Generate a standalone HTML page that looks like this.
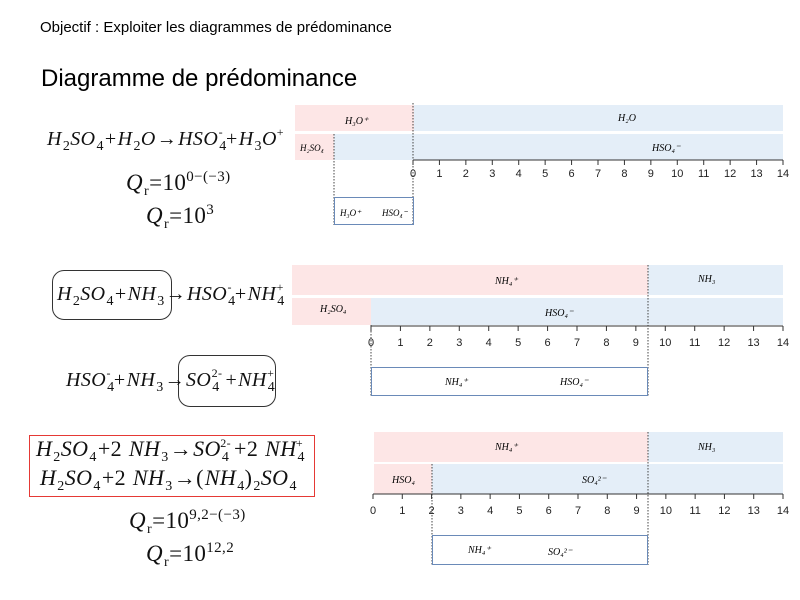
<!DOCTYPE html>
<html><head><meta charset="utf-8"><style>
body{margin:0;width:800px;height:600px;background:#fff;position:relative;overflow:hidden;font-family:"Liberation Sans",sans-serif}
.a{position:absolute;white-space:nowrap}
.eq{position:absolute;white-space:nowrap;font-family:"Liberation Serif",serif;font-style:italic;font-size:20px;color:#111;letter-spacing:0.4px}
.eq sub{font-size:14px;font-style:normal;vertical-align:-5px;line-height:0;margin-left:1px}
.eq sup{font-size:12px;font-style:normal;vertical-align:9px;line-height:0}
.n{font-style:normal}
.o{font-style:normal;margin:0 1px}
</style></head><body>
<div class="a" style="left:40px;top:19px;font-size:15px">Objectif : Exploiter les diagrammes de prédominance</div>
<div class="a" style="left:41px;top:65px;font-size:24px">Diagramme de prédominance</div>

<div class="eq" style="left:47px;top:128px">H<sub>2</sub>SO<sub>4</sub><span class="o">+</span>H<sub>2</sub>O<span class="o">→</span>HSO<sub>4</sub><sup style="margin-left:-8px;margin-right:2px">-</sup><span class="o">+</span>H<sub>3</sub>O<sup>+</sup></div>
<div class="eq" style="left:126px;top:170px;font-size:23px">Q<sub>r</sub><span class="n">=10</span><sup style="font-size:15px">0−(−3)</sup></div>
<div class="eq" style="left:146px;top:203px;font-size:23px">Q<sub>r</sub><span class="n">=10</span><sup style="font-size:15px">3</sup></div>

<div class="a" style="left:52px;top:270px;width:118px;height:48px;border:1px solid #333;border-radius:12px"></div>
<div class="eq" style="left:57px;top:283px">H<sub>2</sub>SO<sub>4</sub><span class="o">+</span>NH<sub>3</sub><span class="o">→</span>HSO<sub>4</sub><sup style="margin-left:-8px;margin-right:2px">-</sup><span class="o">+</span>NH<sub>4</sub><sup style="margin-left:-8px">+</sup></div>
<div class="a" style="left:178px;top:355px;width:96px;height:50px;border:1px solid #333;border-radius:12px"></div>
<div class="eq" style="left:66px;top:369px">HSO<sub>4</sub><sup style="margin-left:-8px;margin-right:2px">-</sup><span class="o">+</span>NH<sub>3</sub><span class="o">→</span>SO<sub>4</sub><sup style="margin-left:-8px;margin-right:2px">2-</sup><span class="o">+</span>NH<sub>4</sub><sup style="margin-left:-8px">+</sup></div>

<div class="a" style="left:29px;top:435px;width:284px;height:60px;border:1.5px solid #e53935"></div>
<div class="eq" style="left:36px;top:436px;font-size:22px">H<sub>2</sub>SO<sub>4</sub><span class="o">+2 </span>NH<sub>3</sub><span class="o">→</span>SO<sub>4</sub><sup style="margin-left:-9px;margin-right:2px">2-</sup><span class="o">+2 </span>NH<sub>4</sub><sup style="margin-left:-9px">+</sup></div>
<div class="eq" style="left:40px;top:465px;font-size:22px">H<sub>2</sub>SO<sub>4</sub><span class="o">+2 </span>NH<sub>3</sub><span class="o">→(</span>NH<sub>4</sub><span class="n">)</span><sub>2</sub>SO<sub>4</sub></div>
<div class="eq" style="left:129px;top:508px;font-size:23px">Q<sub>r</sub><span class="n">=10</span><sup style="font-size:15px">9,2−(−3)</sup></div>
<div class="eq" style="left:146px;top:541px;font-size:23px">Q<sub>r</sub><span class="n">=10</span><sup style="font-size:15px">12,2</sup></div>

<svg class="a" style="left:0;top:0" width="800" height="600" font-family="Liberation Serif,serif" font-style="italic" font-size="10">
<g>
<rect x="295" y="105" width="119" height="26" fill="#fde6e6"/><rect x="414" y="105" width="369" height="26" fill="#e4eef8"/>
<rect x="295" y="134" width="39" height="26" fill="#fde6e6"/><rect x="334" y="134" width="449" height="26" fill="#e4eef8"/>
<text x="345" y="124">H₃O⁺</text><text x="618" y="121">H₂O</text><text x="300" y="151" font-size="9">H₂SO₄</text><text x="652" y="151">HSO₄⁻</text>
<line x1="413" y1="103" x2="413" y2="225" stroke="#444" stroke-dasharray="1.5,1.5"/>
<line x1="334" y1="134" x2="334" y2="225" stroke="#444" stroke-dasharray="1.5,1.5"/>
<rect x="334.5" y="197.5" width="79" height="27" fill="none" stroke="#6a8ab8"/>
<text x="340" y="216" font-size="9">H₃O⁺</text><text x="382" y="216" font-size="9">HSO₄⁻</text>
</g>
<g>
<rect x="292" y="265" width="356" height="30" fill="#fde6e6"/><rect x="648" y="265" width="135" height="30" fill="#e4eef8"/>
<rect x="292" y="298" width="79" height="27" fill="#fde6e6"/><rect x="371" y="298" width="412" height="27" fill="#e4eef8"/>
<text x="495" y="284">NH₄⁺</text><text x="698" y="282">NH₃</text><text x="320" y="312">H₂SO₄</text><text x="545" y="316">HSO₄⁻</text>
<line x1="648" y1="265" x2="648" y2="396" stroke="#444" stroke-dasharray="1.5,1.5"/>
<line x1="371" y1="325" x2="371" y2="396" stroke="#444" stroke-dasharray="1.5,1.5"/>
<rect x="371.5" y="367.5" width="276" height="28" fill="none" stroke="#6a8ab8"/>
<text x="445" y="385">NH₄⁺</text><text x="560" y="385">HSO₄⁻</text>
</g>
<g>
<rect x="374" y="432" width="274" height="30" fill="#fde6e6"/><rect x="648" y="432" width="135" height="30" fill="#e4eef8"/>
<rect x="374" y="464" width="58" height="30" fill="#fde6e6"/><rect x="432" y="464" width="351" height="30" fill="#e4eef8"/>
<text x="495" y="450">NH₄⁺</text><text x="698" y="450">NH₃</text><text x="392" y="483">HSO₄</text><text x="582" y="483">SO₄²⁻</text>
<line x1="648" y1="432" x2="648" y2="565" stroke="#444" stroke-dasharray="1.5,1.5"/>
<line x1="432" y1="464" x2="432" y2="565" stroke="#444" stroke-dasharray="1.5,1.5"/>
<rect x="432.5" y="535.5" width="215" height="29" fill="none" stroke="#6a8ab8"/>
<text x="468" y="553">NH₄⁺</text><text x="548" y="555">SO₄²⁻</text>
</g>
<g id="axes" font-family="Liberation Sans,sans-serif" font-style="normal" font-size="11" fill="#222" text-anchor="middle"></g>
</svg>
<script>
var g=document.getElementById('axes'),ns='http://www.w3.org/2000/svg';
[[413,783,160,177],[371,783,326,346],[373,783,494,514]].forEach(function(a){
var l=document.createElementNS(ns,'line');l.setAttribute('x1',a[0]);l.setAttribute('x2',a[1]);l.setAttribute('y1',a[2]);l.setAttribute('y2',a[2]);l.setAttribute('stroke','#333');g.appendChild(l);
for(var i=0;i<=14;i++){var x=a[0]+(a[1]-a[0])*i/14;
var t=document.createElementNS(ns,'line');t.setAttribute('x1',x);t.setAttribute('x2',x);t.setAttribute('y1',a[2]);t.setAttribute('y2',a[2]+5);t.setAttribute('stroke','#333');g.appendChild(t);
var s=document.createElementNS(ns,'text');s.setAttribute('x',x);s.setAttribute('y',a[3]);s.textContent=i;g.appendChild(s);}
});
</script>
</body></html>
